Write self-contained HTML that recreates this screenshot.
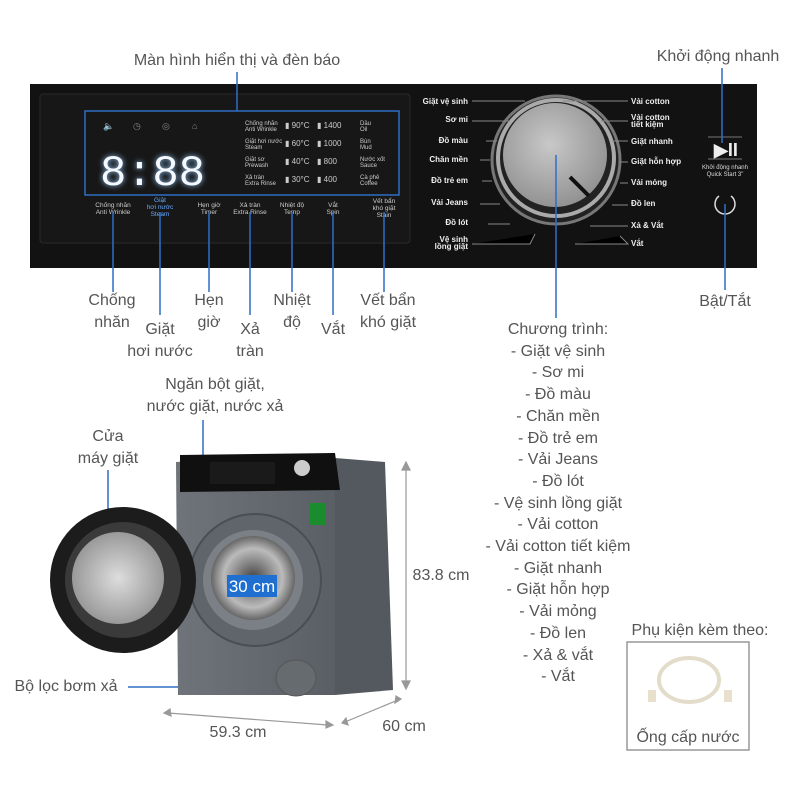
<!DOCTYPE html>
<html><head><meta charset="utf-8"><style>
body{margin:0;width:800px;height:800px;background:#fff;overflow:hidden;position:relative;font-family:"Liberation Sans",sans-serif}
svg{position:absolute;left:0;top:0}
.l{position:absolute;color:#555;font-size:16px;line-height:21.7px;text-align:center;white-space:nowrap;transform:translateX(-50%)}
</style></head><body>
<svg width="800" height="800" viewBox="0 0 800 800" font-family="Liberation Sans, sans-serif">
<defs>
<radialGradient id="dial" cx="0.45" cy="0.4" r="0.7"><stop offset="0" stop-color="#c8c8c8"/><stop offset="1" stop-color="#8a8a8a"/></radialGradient>
<linearGradient id="body" x1="0" x2="1"><stop offset="0" stop-color="#6f747a"/><stop offset="1" stop-color="#5a5f65"/></linearGradient>
<radialGradient id="glass" cx="0.5" cy="0.5" r="0.5"><stop offset="0" stop-color="#ddd"/><stop offset="1" stop-color="#999"/></radialGradient>
<radialGradient id="drum" cx="0.5" cy="0.5" r="0.5"><stop offset="0" stop-color="#444"/><stop offset="0.7" stop-color="#bbb"/><stop offset="1" stop-color="#666"/></radialGradient>
</defs>
<rect x="30" y="84" width="727" height="184" fill="#121212"/>
<rect x="40" y="94" width="370" height="149" rx="3" fill="#171717" stroke="#2a2a2a"/>
<rect x="85" y="111" width="314" height="84" fill="none" stroke="#2f6fc4" stroke-width="1.5"/>
<g fill="#888" font-size="9"><text x="103" y="129">🔈</text><text x="133" y="129">◷</text><text x="162" y="129">◎</text><text x="192" y="129">⌂</text></g>
<text x="100" y="185" font-size="44" fill="#f4f8ff" font-family="Liberation Mono, monospace" textLength="105" style="filter:drop-shadow(0 0 3px #9cf)">8:88</text>
<g fill="#ccc" font-size="6">
<text x="245" y="125">Chống nhăn</text><text x="245" y="131">Anti Wrinkle</text>
<text x="245" y="143">Giặt hơi nước</text><text x="245" y="149">Steam</text>
<text x="245" y="161">Giặt sơ</text><text x="245" y="167">Prewash</text>
<text x="245" y="179">Xả tràn</text><text x="245" y="185">Extra Rinse</text>
<g font-size="8"><text x="285" y="128">▮ 90°C</text><text x="285" y="146">▮ 60°C</text><text x="285" y="164">▮ 40°C</text><text x="285" y="182">▮ 30°C</text>
<text x="317" y="128">▮ 1400</text><text x="317" y="146">▮ 1000</text><text x="317" y="164">▮ 800</text><text x="317" y="182">▮ 400</text></g>
<text x="360" y="125">Dầu</text><text x="360" y="131">Oil</text><text x="360" y="143">Bùn</text><text x="360" y="149">Mud</text>
<text x="360" y="161">Nước xốt</text><text x="360" y="167">Sauce</text><text x="360" y="179">Cà phê</text><text x="360" y="185">Coffee</text>
</g>
<g fill="#ccc" font-size="6.5" text-anchor="middle">
<text x="113" y="207">Chống nhăn</text><text x="113" y="214">Anti Wrinkle</text>
<text x="160" y="202" fill="#6af">Giặt</text><text x="160" y="209" fill="#6af">hơi nước</text><text x="160" y="216" fill="#6af">Steam</text>
<text x="209" y="207">Hẹn giờ</text><text x="209" y="214">Timer</text>
<text x="250" y="207">Xả tràn</text><text x="250" y="214">Extra Rinse</text>
<text x="292" y="207">Nhiệt độ</text><text x="292" y="214">Temp</text>
<text x="333" y="207">Vắt</text><text x="333" y="214">Spin</text>
<text x="384" y="203">Vết bẩn</text><text x="384" y="210">khó giặt</text><text x="384" y="217">Stain</text>
</g>
<circle cx="556" cy="160" r="64" fill="#222" stroke="#777" stroke-width="3"/>
<circle cx="556" cy="158" r="58" fill="none" stroke="#aaa" stroke-width="4"/>
<circle cx="555" cy="155" r="52" fill="url(#dial)"/>
<line x1="570" y1="177" x2="589" y2="196" stroke="#111" stroke-width="4"/>
<g fill="#eee" font-size="8" font-weight="bold" text-anchor="end">
<text x="468" y="104">Giặt vệ sinh</text><text x="468" y="122">Sơ mi</text><text x="468" y="143">Đồ màu</text><text x="468" y="162">Chăn mền</text><text x="468" y="183">Đồ trẻ em</text><text x="468" y="205">Vải Jeans</text><text x="468" y="225">Đồ lót</text><text x="468" y="242">Vệ sinh</text><text x="468" y="249">lồng giặt</text>
</g>
<g fill="#eee" font-size="8" font-weight="bold">
<text x="631" y="104">Vải cotton</text><text x="631" y="120">Vải cotton</text><text x="631" y="127">tiết kiệm</text><text x="631" y="144">Giặt nhanh</text><text x="631" y="164">Giặt hỗn hợp</text><text x="631" y="185">Vải mỏng</text><text x="631" y="206">Đồ len</text><text x="631" y="228">Xả &amp; Vắt</text><text x="631" y="246">Vắt</text>
</g>
<g stroke="#888" stroke-width="1">
<path d="M472 101H525M472 121H510M486 141H497M480 160H490M482 181H492M480 204H500M488 224H510M472 244H530l5-10M563 101H628M601 121H628M612 141H628M620 162H628M620 183H628M612 205H628M590 226H628M575 244H628l-8-8"/>
</g>
<text x="714" y="156" font-size="18" fill="#eee" font-weight="bold">▶II</text>
<line x1="708" y1="137" x2="742" y2="137" stroke="#777"/><line x1="708" y1="159" x2="742" y2="159" stroke="#777"/>
<text x="725" y="169" font-size="6" fill="#ddd" text-anchor="middle">Khởi động nhanh</text><text x="725" y="176" font-size="6" fill="#ddd" text-anchor="middle">Quick Start 3"</text>
<path d="M719 196a10 10 0 1 0 12 0" fill="none" stroke="#ddd" stroke-width="1.5"/>
<g stroke="#2f6fc4" stroke-width="1.5" fill="none">
<path d="M237 72V111M113 212V292M160 212V315M209 212V292M250 212V315M292 212V292M333 212V315M384 212V292M556 155V318M722 68V143M725 204V290M203 420V492M108 470V545M128 687H290"/>
</g>
<polygon points="335,458 385,462 393,690 335,695" fill="#54595f"/>
<polygon points="176,462 335,453 335,695 178,695" fill="url(#body)"/>
<polygon points="180,455 335,453 340,490 180,492" fill="#101010"/>
<rect x="210" y="462" width="65" height="22" fill="#1a1a1a"/>
<circle cx="302" cy="468" r="8" fill="#ccc"/>
<rect x="310" y="503" width="15" height="22" fill="#1a8c2e"/>
<circle cx="255" cy="580" r="66" fill="#60656b" stroke="#4a4e53" stroke-width="2"/>
<circle cx="253" cy="580" r="50" fill="#7b8086"/>
<circle cx="253" cy="578" r="42" fill="url(#drum)"/>
<ellipse cx="296" cy="678" rx="20" ry="18" fill="#666b70" stroke="#555"/>
<circle cx="123" cy="580" r="73" fill="#1c1c1c"/>
<circle cx="123" cy="580" r="58" fill="#3a3a3a"/>
<circle cx="118" cy="578" r="46" fill="url(#glass)"/>
<rect x="227" y="575" width="50" height="22" fill="#1e6fd0"/>
<text x="252" y="592" fill="#fff" font-size="17" text-anchor="middle">30 cm</text>
<g stroke="#999" stroke-width="1.2" fill="#999">
<path d="M406 465V686" /><path d="M402 470l4-8 4 8zM402 681l4 8 4-8z"/>
<path d="M168 713L328 725"/><path d="M170 709l-6 4 7 3zM326 721l7 4-7 3z"/>
<path d="M345 722L398 700"/><path d="M346 718l-4 5 6 2zM396 696l5 3-6 4z"/>
</g>
<rect x="627" y="642" width="122" height="108" fill="none" stroke="#999" stroke-width="1.5"/>
<ellipse cx="689" cy="680" rx="30" ry="22" fill="none" stroke="#e3dcca" stroke-width="4"/>
<rect x="648" y="690" width="8" height="12" fill="#e8e0cc"/><rect x="724" y="690" width="8" height="12" fill="#e8e0cc"/>
</svg>
<div class="l" style="left:237px;top:50px">Màn hình hiển thị và đèn báo</div>
<div class="l" style="left:718px;top:46px">Khởi động nhanh</div>
<div class="l" style="left:112px;top:290px">Chống<br>nhăn</div>
<div class="l" style="left:160px;top:319px">Giặt<br>hơi nước</div>
<div class="l" style="left:209px;top:290px">Hẹn<br>giờ</div>
<div class="l" style="left:250px;top:319px">Xả<br>tràn</div>
<div class="l" style="left:292px;top:290px">Nhiệt<br>độ</div>
<div class="l" style="left:333px;top:319px">Vắt</div>
<div class="l" style="left:388px;top:290px">Vết bẩn<br>khó giặt</div>
<div class="l" style="left:725px;top:291px">Bật/Tắt</div>
<div class="l" style="left:558px;top:319px">Chương trình:<br>- Giặt vệ sinh<br>- Sơ mi<br>- Đồ màu<br>- Chăn mền<br>- Đồ trẻ em<br>- Vải Jeans<br>- Đồ lót<br>- Vệ sinh lồng giặt<br>- Vải cotton<br>- Vải cotton tiết kiệm<br>- Giặt nhanh<br>- Giặt hỗn hợp<br>- Vải mỏng<br>- Đồ len<br>- Xả &amp; vắt<br>- Vắt</div>
<div class="l" style="left:215px;top:374px">Ngăn bột giặt,<br>nước giặt, nước xả</div>
<div class="l" style="left:108px;top:426px">Cửa<br>máy giặt</div>
<div class="l" style="left:441px;top:565px">83.8 cm</div>
<div class="l" style="left:66px;top:676px">Bộ lọc bơm xả</div>
<div class="l" style="left:238px;top:722px">59.3 cm</div>
<div class="l" style="left:404px;top:716px">60 cm</div>
<div class="l" style="left:700px;top:620px">Phụ kiện kèm theo:</div>
<div class="l" style="left:688px;top:727px">Ống cấp nước</div>
</body></html>
